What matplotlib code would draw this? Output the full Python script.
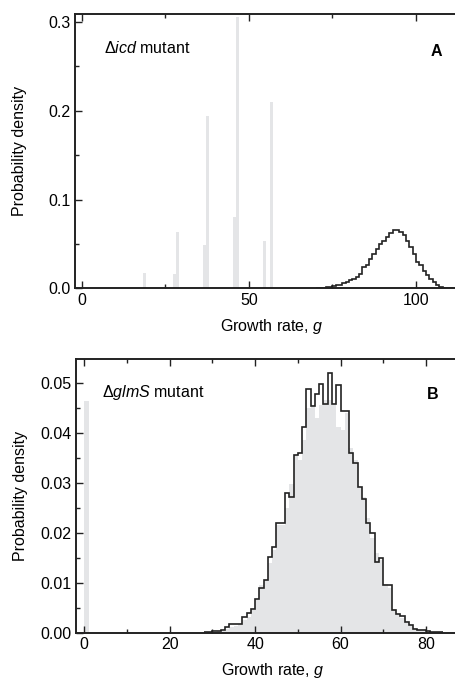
import numpy as np
import matplotlib
matplotlib.use("Agg")
import matplotlib.pyplot as plt
from matplotlib.ticker import MultipleLocator

plt.rcParams["font.family"] = ["Liberation Sans", "DejaVu Sans"]
plt.rcParams["mathtext.fontset"] = "custom"
plt.rcParams["mathtext.rm"] = "Liberation Sans"
plt.rcParams["mathtext.it"] = "Liberation Sans:italic"
plt.rcParams["font.size"] = 11.5

# panel A: gray histogram (left edges, density), bin width 1
a_gray_left = [9.2, 18.2, 27.2, 28.2, 36.2, 37.2, 45.2, 46.2, 54.2, 56.2]
a_gray_val = [0.0008, 0.018, 0.0165, 0.064, 0.0495, 0.194, 0.080, 0.3055, 0.054, 0.2095]

# panel A: black step histogram, bins of width 1 starting at 70
a_line_start = 70
a_line_val = [0.0003, 0.0005, 0.0008, 0.0012, 0.0018, 0.0025, 0.0035, 0.0045, 0.0060, 0.0075,
              0.0095, 0.0110, 0.0130, 0.0165, 0.0240, 0.0265, 0.0335, 0.0390, 0.0447, 0.0500,
              0.0540, 0.0580, 0.0620, 0.0653, 0.0653, 0.0640, 0.0600, 0.0540, 0.0465, 0.0390,
              0.0300, 0.0260, 0.0200, 0.0150, 0.0110, 0.0072, 0.0042, 0.0016, 0.0006, 0.0003,
              0.0001]

# panel B: gray histogram, bin at 0 plus bins of width 1 starting at 28
b_gray_zero = 0.0464
b_gray_start = 28
b_gray_val = [0.0, 0.0001, 0.0002, 0.0003, 0.0004, 0.0008, 0.0012, 0.0014, 0.0018, 0.0025,
              0.0032, 0.0045, 0.0065, 0.0095, 0.0105, 0.0140, 0.0165, 0.0215, 0.0215, 0.0250,
              0.0299, 0.0356, 0.0346, 0.0386, 0.0450, 0.0453, 0.0430, 0.0456, 0.0466, 0.0466,
              0.0456, 0.0413, 0.0406, 0.0440, 0.0370, 0.0346, 0.0290, 0.0272, 0.0230, 0.0190,
              0.0160, 0.0145, 0.0098, 0.0090, 0.0048, 0.0038, 0.0030, 0.0020, 0.0014, 0.0009,
              0.0006, 0.0005, 0.0003, 0.0002, 0.0001, 0.0001]

# panel B: black step histogram
b_line_start = 28
b_line_val = [0.0001, 0.0002, 0.0003, 0.0004, 0.0006, 0.0011, 0.0018, 0.0018, 0.0018, 0.0031,
              0.0039, 0.0048, 0.0068, 0.0090, 0.0105, 0.0152, 0.0171, 0.0219, 0.0219, 0.0280,
              0.0272, 0.0357, 0.0360, 0.0413, 0.0488, 0.0454, 0.0478, 0.0498, 0.0458, 0.0521,
              0.0458, 0.0496, 0.0445, 0.0445, 0.0360, 0.0341, 0.0293, 0.0267, 0.0220, 0.0199,
              0.0142, 0.0149, 0.0095, 0.0095, 0.0045, 0.0037, 0.0033, 0.0021, 0.0015, 0.0008,
              0.0006, 0.0006, 0.0004, 0.0002, 0.0001, 0.0002]

GRAY = "#e4e5e7"
DARK = "#222222"

fig = plt.figure(figsize=(4.55, 6.83), dpi=100)
ax_a = fig.add_axes([0.165, 0.5776, 0.835, 0.402])
ax_b = fig.add_axes([0.1664, 0.0739, 0.8336, 0.4005])


def style(ax):
    for side in ["left", "bottom", "top"]:
        ax.spines[side].set_linewidth(1.4)
        ax.spines[side].set_color(DARK)
    ax.spines["right"].set_visible(False)
    ax.tick_params(which="both", direction="in", top=True, right=False,
                   color=DARK, width=1.0)
    ax.tick_params(which="major", length=5, labelsize=11.5, pad=3)
    ax.tick_params(which="minor", length=3)
    ax.set_ylabel("Probability density", fontsize=11.5)
    ax.set_xlabel("Growth rate, $\\it{g}$", fontsize=11.5)
    ax.yaxis.set_label_coords(-0.126, 0.5)
    ax.xaxis.set_label_coords(0.518, -0.103)


# panel A
ax_a.bar(a_gray_left, a_gray_val, width=1, align="edge", color=GRAY, linewidth=0)
a_edges = a_line_start + np.arange(len(a_line_val) + 1)
ax_a.stairs(a_line_val, a_edges, color=DARK, linewidth=1.2, baseline=None)
ax_a.set_xlim(-2, 111.7)
ax_a.set_ylim(0, 0.309)
ax_a.xaxis.set_major_locator(MultipleLocator(50))
ax_a.xaxis.set_minor_locator(MultipleLocator(25))
ax_a.yaxis.set_major_locator(MultipleLocator(0.1))
ax_a.yaxis.set_minor_locator(MultipleLocator(0.05))
ax_a.yaxis.set_major_formatter(lambda v, p: f"{v:.1f}")
style(ax_a)
ax_a.text(0.076, 0.858, "$\\Delta\\it{icd}$ mutant", transform=ax_a.transAxes,
          va="baseline")
ax_a.text(0.95, 0.845, "A", transform=ax_a.transAxes, fontweight="bold",
          ha="center", va="baseline")

# panel B
ax_b.bar([0], [b_gray_zero], width=1, align="edge", color=GRAY, linewidth=0)
b_gray_left = b_gray_start + np.arange(len(b_gray_val))
ax_b.bar(b_gray_left, b_gray_val, width=1, align="edge", color=GRAY, linewidth=0)
b_edges = b_line_start + np.arange(len(b_line_val) + 1)
ax_b.stairs(b_line_val, b_edges, color=DARK, linewidth=1.2, baseline=None)
ax_b.set_xlim(-2, 86.8)
ax_b.set_ylim(0, 0.0549)
ax_b.xaxis.set_major_locator(MultipleLocator(20))
ax_b.xaxis.set_minor_locator(MultipleLocator(10))
ax_b.yaxis.set_major_locator(MultipleLocator(0.01))
ax_b.yaxis.set_minor_locator(MultipleLocator(0.005))
ax_b.yaxis.set_major_formatter(lambda v, p: f"{v:.2f}")
style(ax_b)
ax_b.text(0.0685, 0.862, "$\\Delta\\it{glmS}$ mutant", transform=ax_b.transAxes,
          va="baseline")
ax_b.text(0.941, 0.853, "B", transform=ax_b.transAxes, fontweight="bold",
          ha="center", va="baseline")

fig.savefig("out.png", dpi=100)
